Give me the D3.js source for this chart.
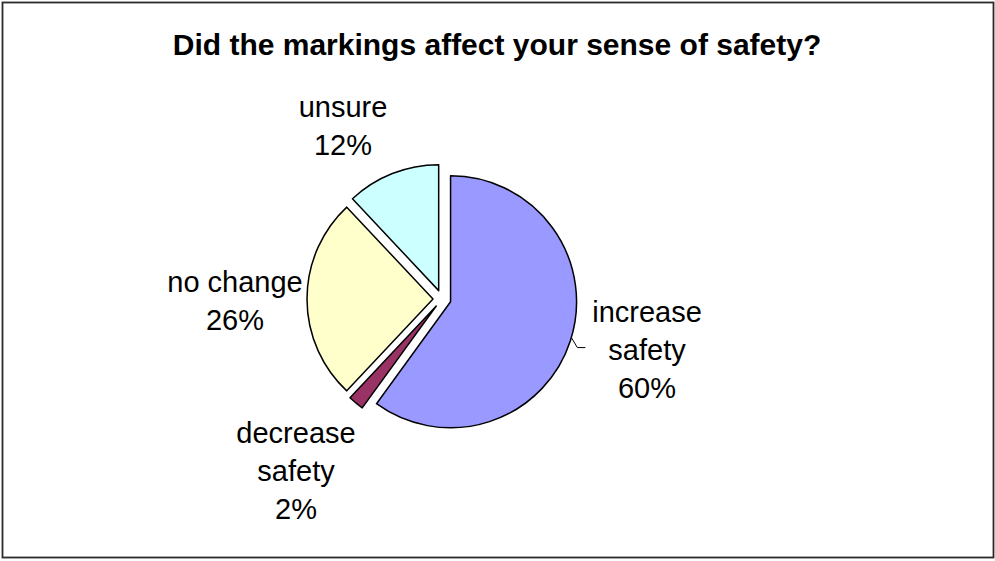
<!DOCTYPE html>
<html><head><meta charset="utf-8">
<script src="https://cdn.jsdelivr.net/npm/d3@7"></script>
<style>
html,body{margin:0;padding:0;background:#fff;}
svg{display:block;}
text{font-family:"Liberation Sans",Arial,sans-serif;fill:#000;}
</style></head>
<body>
<script>
const title = "Did the markings affect your sense of safety?";
const categories = ["increase safety", "decrease safety", "no change", "unsure"];
const values = [60, 2, 26, 12];
const labelLines = [["increase", "safety", "60%"], ["decrease", "safety", "2%"], ["no change", "26%"], ["unsure", "12%"]];
const colors = ["#9999FF", "#993366", "#FFFFCC", "#CCFFFF"];

const W = 995, H = 561;
const svg = d3.select("body").append("svg").attr("width", W).attr("height", H);

svg.append("rect").attr("x", 2.5).attr("y", 2.5).attr("width", 991).attr("height", 555)
  .attr("fill", "#fff").attr("stroke", "#2a2a2a").attr("stroke-width", 1.8);

svg.append("text").attr("x", 497).attr("y", 55).attr("text-anchor", "middle")
  .attr("font-size", 30).attr("font-weight", "bold").text(title);

const cx = 442, cy = 299, r = 126, explode = 9;
const pie = d3.pie().sort(null).value(d => d)(values);
const arc = d3.arc().innerRadius(0).outerRadius(r);
const g = svg.append("g").attr("transform", `translate(${cx},${cy})`);

g.selectAll("path").data(pie).join("path")
  .attr("d", arc)
  .attr("fill", (d, i) => colors[i])
  .attr("stroke", "#000").attr("stroke-width", 1.5).attr("stroke-linejoin", "round")
  .attr("transform", d => {
    const a = (d.startAngle + d.endAngle) / 2;
    return `translate(${explode * Math.sin(a)},${-explode * Math.cos(a)})`;
  });

// label anchor positions (center x, first baseline y)
const labelPos = [[647, 322], [296, 443], [235, 292], [343, 117]];
const lineH = 38;
labelLines.forEach((lines, i) => {
  const t = svg.append("text").attr("text-anchor", "middle").attr("font-size", 29);
  lines.forEach((s, k) => {
    t.append("tspan").attr("x", labelPos[i][0]).attr("y", labelPos[i][1] + k * lineH).text(s);
  });
});

// leader line for "increase safety"
const d0 = pie[0];
const am = (d0.startAngle + d0.endAngle) / 2;
const ox = explode * Math.sin(am), oy = -explode * Math.cos(am);
const la = 106.5 * Math.PI / 180;
const p0 = [cx + ox + r * Math.sin(la), cy + oy - r * Math.cos(la)];
svg.append("polyline")
  .attr("points", [p0, [p0[0] + 6, p0[1] + 10], [p0[0] + 14, p0[1] + 10]].map(p => p.join(",")).join(" "))
  .attr("fill", "none").attr("stroke", "#000").attr("stroke-width", 1);
</script>
</body></html>
